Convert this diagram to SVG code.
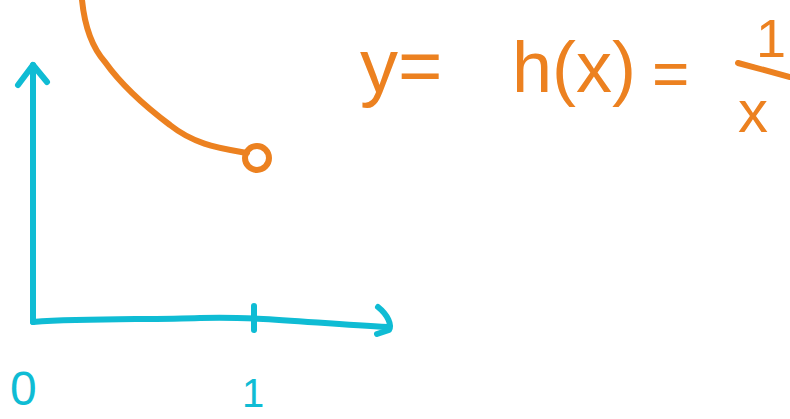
<svg xmlns="http://www.w3.org/2000/svg" width="790" height="419" viewBox="0 0 790 419">
<style>
.ax{fill:none;stroke:#0fbcd4;stroke-width:6;stroke-linecap:round;stroke-linejoin:round}
.or{fill:none;stroke:#ec8120;stroke-width:6;stroke-linecap:round;stroke-linejoin:round}
.tc{fill:#0fbcd4;font-family:"Liberation Sans",Arial,sans-serif}
.to{fill:#ec8120;font-family:"Liberation Sans",Arial,sans-serif}
</style>
<rect width="790" height="419" fill="#fff"/>
<g id="axes">
<path class="ax" d="M33,322 L33,65"/>
<path class="ax" d="M18,85 L33,65 L47,82"/>
<path class="ax" d="M33,322 C90,318 150,320 200,318 C260,316 320,324 388,327"/>
<path class="ax" d="M378,307 C388,315 392,325 389,330 L377,334"/>
<path class="ax" d="M254,306 L254,330"/>
</g>
<g id="curve">
<path class="or" d="M82,0 C84,20 90,45 105,62 C125,90 150,110 170,125 C195,145 220,148 247,153"/>
<circle class="or" cx="257" cy="158" r="12"/>
</g>
<g id="labels">
<text class="tc" x="10" y="405" font-size="48">0</text>
<text class="tc" x="242" y="407" font-size="40">1</text>
</g>
<g id="formula">
<text class="to" x="360" y="92" font-size="76">y=</text>
<text class="to" x="512" y="92" font-size="72">h(x)</text>
<text class="to" x="652" y="96" font-size="64">=</text>
<text class="to" x="756" y="57" font-size="54">1</text>
<path class="or" d="M738,63 L790,77"/>
<text class="to" x="738" y="132" font-size="60">x</text>
</g>
</svg>
